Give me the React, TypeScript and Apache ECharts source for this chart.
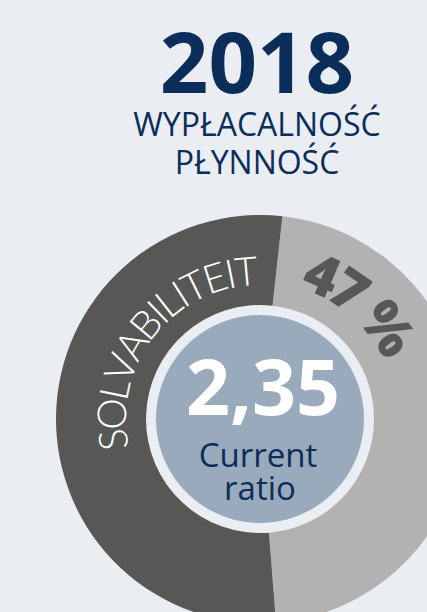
import React, { useEffect, useRef } from "react";
import * as echarts from "echarts";

// ---- data ----
const yearLabel = "2018";
const titleLines = ["WYPŁACALNOŚĆ", "PŁYNNOŚĆ"];
const segmentNames = ["Płynność", "Solvabiliteit"];
const segmentValues = [47, 53];
const ringLabel = "SOLVABILITEIT";
const ratioValue = 2.35;
const ratioLabel = ["Current", "ratio"];

// ---- style ----
const BG = "#eaeef2";
const NAVY = "#0a2d5a";
const DARK = "#575756";
const LIGHT = "#b2b2b2";
const BLUE = "#99aabd";
const CX = 260;
const CY = 419;

const deg = Math.PI / 180;

function arcText(
  text: string,
  font: string,
  r: number,
  startCenterDeg: number,
  endCenterDeg: number,
  fill: string
) {
  const canvas = document.createElement("canvas");
  const ctx = canvas.getContext("2d")!;
  ctx.font = font;
  const chars = Array.from(text);
  const widths = chars.map((c) => ctx.measureText(c).width);
  const n = chars.length;
  const targetArc = (endCenterDeg - startCenterDeg) * deg * r;
  const inner = widths.reduce((a, b) => a + b, 0) - widths[0] / 2 - widths[n - 1] / 2;
  const ls = n > 1 ? (targetArc - inner) / (n - 1) : 0;
  const els: any[] = [];
  let s = 0;
  for (let i = 0; i < n; i++) {
    if (i > 0) s += widths[i - 1] / 2 + ls + widths[i] / 2;
    const theta = startCenterDeg * deg + s / r;
    if (chars[i] === " ") continue;
    els.push({
      type: "text",
      x: CX + r * Math.sin(theta),
      y: CY - r * Math.cos(theta),
      rotation: -theta,
      silent: true,
      z: 100,
      style: {
        text: chars[i],
        font,
        fill,
        align: "center",
        verticalAlign: "middle",
      },
    });
  }
  return els;
}

function label(text: string, x: number, y: number, font: string, fill: string) {
  return {
    type: "text",
    x,
    y,
    silent: true,
    z: 100,
    style: { text, font, fill, align: "center", verticalAlign: "middle" },
  };
}

export default function App() {
  const ref = useRef<HTMLDivElement>(null);
  useEffect(() => {
    if (!ref.current) return;
    const chart = echarts.init(ref.current, null, { renderer: "svg" });
    const total = segmentValues.reduce((a, b) => a + b, 0);
    const lightSpan = (segmentValues[0] / total) * 360;
    // center the light (first) sector around the 3 o'clock direction (~91° clockwise from top)
    const lightStart = 90.9 - lightSpan / 2;
    const percentText = `${segmentValues[0]} %`;
    const ratioText = ratioValue.toFixed(2).replace(".", ",");

    chart.setOption({
      animation: false,
      backgroundColor: BG,
      series: [
        {
          type: "pie",
          silent: true,
          z: 1,
          center: [CX, CY],
          radius: [114, 204],
          startAngle: 90 - lightStart,
          clockwise: true,
          label: { show: false },
          labelLine: { show: false },
          emphasis: { disabled: true },
          itemStyle: { borderWidth: 0 },
          data: segmentNames.map((name, i) => ({
            name,
            value: segmentValues[i],
            itemStyle: { color: i === 0 ? LIGHT : DARK },
          })),
        },
        {
          type: "pie",
          silent: true,
          z: 1,
          center: [CX, CY],
          radius: [0, 104],
          label: { show: false },
          labelLine: { show: false },
          emphasis: { disabled: true },
          itemStyle: { color: BLUE, borderWidth: 0 },
          data: [{ name: "Current ratio", value: ratioValue }],
        },
      ],
      graphic: {
        z: 100,
        elements: [
          label(yearLabel, 257, 60, 'bold 85px "Open Sans"', NAVY),
          label(titleLines[0], 257, 123.5, '32px "Open Sans"', NAVY),
          label(titleLines[1], 257, 161.5, '32px "Open Sans"', NAVY),
          label(ratioText, 263, 385, 'bold 77px "Open Sans"', "#ffffff"),
          label(ratioLabel[0], 258, 454, '33px "Open Sans"', NAVY),
          label(ratioLabel[1], 260, 487, '33px "Open Sans"', NAVY),
          ...arcText(ringLabel, '300 40px Lato', 149, 262, 354.7, "#ffffff"),
          ...arcText(percentText, '800 56px "Open Sans"', 159, 23.3, 54.7, DARK),
        ],
      },
    });
    return () => chart.dispose();
  }, []);
  return (
    <div
      ref={ref}
      style={{ position: "absolute", left: 0, top: 0, width: 427, height: 612 }}
    />
  );
}
